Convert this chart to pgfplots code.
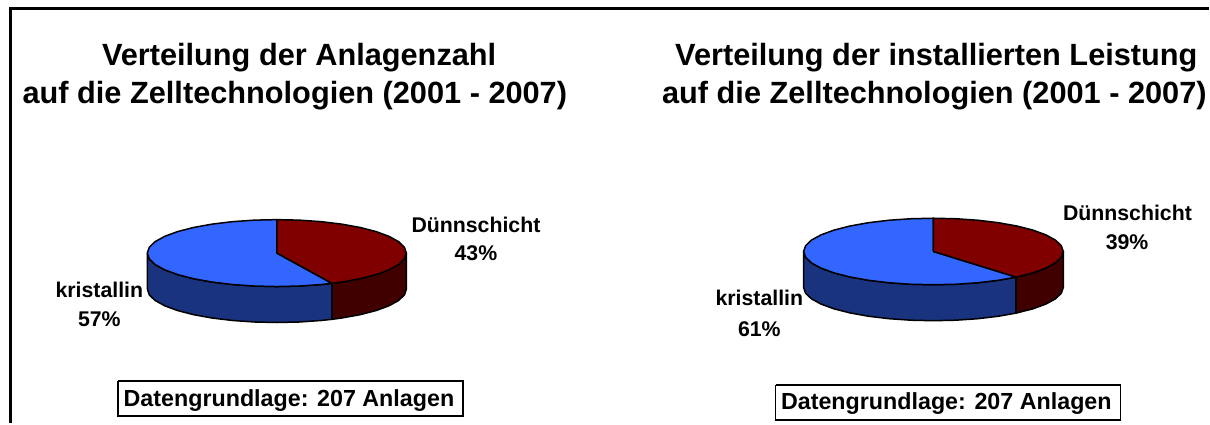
\documentclass[border=0pt]{standalone}
\usepackage{pgfplots}
\pgfplotsset{compat=1.18}
\usepackage{pgfplotstable}
\usepackage{fontspec}
\setmainfont{Liberation Sans}
\definecolor{blueT}{HTML}{3366FF}
\definecolor{blueS}{HTML}{1A337F}
\definecolor{redT}{HTML}{800000}
\definecolor{redS}{HTML}{400000}
% columns: s = sin(angle from 12 o'clock), c = cos(angle), d = 1 on the lower rim
% Left pie: Duennschicht 43 %, kristallin 57 %
\pgfplotstableread{
s c d
0 0 0
0 1 0
.1736 .9848 0
.3420 .9397 0
.5 .8660 0
.6428 .7660 0
.7660 .6428 0
.8660 .5 0
.9397 .3420 0
.9848 .1736 0
1 0 0
.9848 -.1736 0
.9397 -.3420 0
.8660 -.5 0
.7660 -.6428 0
.6428 -.7660 0
.5 -.8660 0
.4258 -.9048 0
0 0 0
}\redtopA
\pgfplotstableread{
s c d
0 0 0
.4258 -.9048 0
.3420 -.9397 0
.1736 -.9848 0
0 -1 0
-.1736 -.9848 0
-.3420 -.9397 0
-.5 -.8660 0
-.6428 -.7660 0
-.7660 -.6428 0
-.8660 -.5 0
-.9397 -.3420 0
-.9848 -.1736 0
-1 0 0
-.9848 .1736 0
-.9397 .3420 0
-.8660 .5 0
-.7660 .6428 0
-.6428 .7660 0
-.5 .8660 0
-.3420 .9397 0
-.1736 .9848 0
0 1 0
0 0 0
}\bluetopA
\pgfplotstableread{
s c d
1 0 0
.9848 -.1736 0
.9397 -.3420 0
.8660 -.5 0
.7660 -.6428 0
.6428 -.7660 0
.5 -.8660 0
.4258 -.9048 0
.4258 -.9048 1
.5 -.8660 1
.6428 -.7660 1
.7660 -.6428 1
.8660 -.5 1
.9397 -.3420 1
.9848 -.1736 1
1 0 1
1 0 0
}\redsideA
\pgfplotstableread{
s c d
.4258 -.9048 0
.3420 -.9397 0
.1736 -.9848 0
0 -1 0
-.1736 -.9848 0
-.3420 -.9397 0
-.5 -.8660 0
-.6428 -.7660 0
-.7660 -.6428 0
-.8660 -.5 0
-.9397 -.3420 0
-.9848 -.1736 0
-1 0 0
-1 0 1
-.9848 -.1736 1
-.9397 -.3420 1
-.8660 -.5 1
-.7660 -.6428 1
-.6428 -.7660 1
-.5 -.8660 1
-.3420 -.9397 1
-.1736 -.9848 1
0 -1 1
.1736 -.9848 1
.3420 -.9397 1
.4258 -.9048 1
.4258 -.9048 0
}\bluesideA
% Right pie: Duennschicht 39 %, kristallin 61 %
\pgfplotstableread{
s c d
0 0 0
0 1 0
.1736 .9848 0
.3420 .9397 0
.5 .8660 0
.6428 .7660 0
.7660 .6428 0
.8660 .5 0
.9397 .3420 0
.9848 .1736 0
1 0 0
.9848 -.1736 0
.9397 -.3420 0
.8660 -.5 0
.7660 -.6428 0
.6374 -.7705 0
0 0 0
}\redtopB
\pgfplotstableread{
s c d
0 0 0
.6374 -.7705 0
.5 -.8660 0
.3420 -.9397 0
.1736 -.9848 0
0 -1 0
-.1736 -.9848 0
-.3420 -.9397 0
-.5 -.8660 0
-.6428 -.7660 0
-.7660 -.6428 0
-.8660 -.5 0
-.9397 -.3420 0
-.9848 -.1736 0
-1 0 0
-.9848 .1736 0
-.9397 .3420 0
-.8660 .5 0
-.7660 .6428 0
-.6428 .7660 0
-.5 .8660 0
-.3420 .9397 0
-.1736 .9848 0
0 1 0
0 0 0
}\bluetopB
\pgfplotstableread{
s c d
1 0 0
.9848 -.1736 0
.9397 -.3420 0
.8660 -.5 0
.7660 -.6428 0
.6374 -.7705 0
.6374 -.7705 1
.7660 -.6428 1
.8660 -.5 1
.9397 -.3420 1
.9848 -.1736 1
1 0 1
1 0 0
}\redsideB
\pgfplotstableread{
s c d
.6374 -.7705 0
.5 -.8660 0
.3420 -.9397 0
.1736 -.9848 0
0 -1 0
-.1736 -.9848 0
-.3420 -.9397 0
-.5 -.8660 0
-.6428 -.7660 0
-.7660 -.6428 0
-.8660 -.5 0
-.9397 -.3420 0
-.9848 -.1736 0
-1 0 0
-1 0 1
-.9848 -.1736 1
-.9397 -.3420 1
-.8660 -.5 1
-.7660 -.6428 1
-.6428 -.7660 1
-.5 -.8660 1
-.3420 -.9397 1
-.1736 -.9848 1
0 -1 1
.1736 -.9848 1
.3420 -.9397 1
.5 -.8660 1
.6374 -.7705 1
.6374 -.7705 0
}\bluesideB
\pgfplotsset{
  /pgfplots/table/pieA/.style={/pgfplots/table/x expr=277.2+129.7*\thisrow{s}, /pgfplots/table/y expr=253.4-33.5*\thisrow{c}+36*\thisrow{d}},
  /pgfplots/table/pieB/.style={/pgfplots/table/x expr=934.6+130*\thisrow{s}, /pgfplots/table/y expr=251.8-33.3*\thisrow{c}+36*\thisrow{d}},
  face/.style={draw=black, line width=1.5pt, line join=round, mark=none, fill=#1},
}
\newcommand{\ttl}{\fontsize{30.75}{34}\selectfont\bfseries}
\newcommand{\lbl}{\fontsize{21.3}{24}\selectfont\bfseries}
\newcommand{\dat}{\fontsize{23.3}{26}\selectfont\bfseries}
\newcommand{\txtbase}[3]{\node[anchor=base, inner sep=0pt] at (axis cs:#1,#2) {#3};}
\begin{document}
\begin{tikzpicture}
\begin{axis}[
  scale only axis, width=1210pt, height=424pt,
  xmin=0, xmax=1210, ymin=0, ymax=424, y dir=reverse,
  hide axis, clip=false]
\addplot[draw=none, forget plot] coordinates {(0,0)(1210,424)};
\addplot[black, line width=3pt, mark=none, line cap=butt] coordinates {(11,424)(11,9)(1210,9)};
\addplot[face=blueS] table[pieA] {\bluesideA};
\addplot[face=redS] table[pieA] {\redsideA};
\addplot[face=blueT] table[pieA] {\bluetopA};
\addplot[face=redT] table[pieA] {\redtopA};
\addplot[face=blueS] table[pieB] {\bluesideB};
\addplot[face=redS] table[pieB] {\redsideB};
\addplot[face=blueT] table[pieB] {\bluetopB};
\addplot[face=redT] table[pieB] {\redtopB};
\txtbase{299.5}{66}{\ttl Verteilung der Anlagenzahl}
\txtbase{295.2}{104}{\ttl auf die Zelltechnologien (2001 - 2007)}
\txtbase{937.5}{66}{\ttl Verteilung der installierten Leistung}
\txtbase{935.5}{104}{\ttl auf die Zelltechnologien (2001 - 2007)}
\txtbase{476.5}{232.5}{\lbl Dünnschicht}
\txtbase{476.5}{261}{\lbl 43\%}
\txtbase{99.5}{298}{\lbl kristallin}
\txtbase{99.5}{327}{\lbl 57\%}
\txtbase{1128.8}{221}{\lbl Dünnschicht}
\txtbase{1128.5}{250}{\lbl 39\%}
\txtbase{760.3}{306}{\lbl kristallin}
\txtbase{760.3}{337}{\lbl 61\%}
\addplot[draw=black, line width=1.5pt, fill=white, mark=none] coordinates {(118,381.5)(463.5,381.5)(463.5,416.5)(118,416.5)(118,381.5)};
\addplot[draw=black, line width=1.5pt, fill=white, mark=none] coordinates {(776.5,385.5)(1122,385.5)(1122,420.5)(776.5,420.5)(776.5,385.5)};
\txtbase{289.3}{406.5}{\dat Datengrundlage: 207 Anlagen}
\txtbase{947.5}{410.5}{\dat Datengrundlage: 207 Anlagen}
\end{axis}
\end{tikzpicture}
\end{document}
